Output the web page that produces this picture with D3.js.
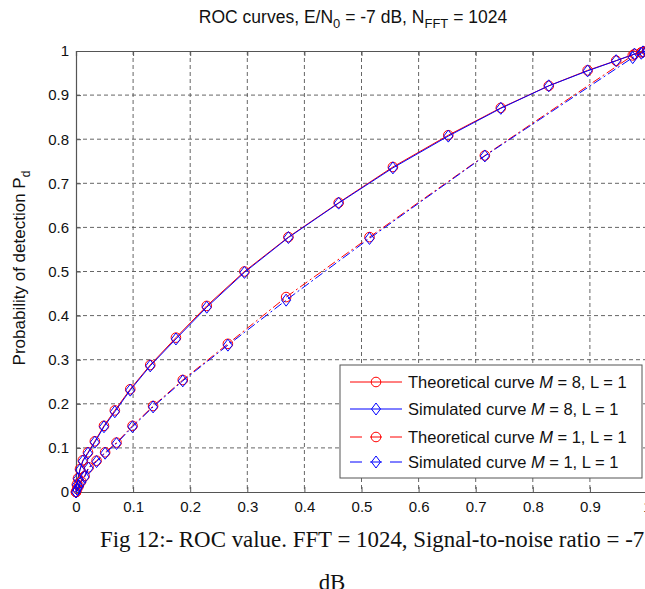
<!DOCTYPE html>
<html>
<head>
<meta charset="utf-8">
<script src="https://cdn.jsdelivr.net/npm/d3@7/dist/d3.min.js"></script>
<style>
  body { margin: 0; background: #fff; }
  svg { display: block; }
</style>
</head>
<body>
<div id="chart"></div>
<script>
var xTicks = [0, 0.1, 0.2, 0.3, 0.4, 0.5, 0.6, 0.7, 0.8, 0.9, 1];
var yTicks = [0, 0.1, 0.2, 0.3, 0.4, 0.5, 0.6, 0.7, 0.8, 0.9, 1];

var pfaM8 = [0, 0.0015, 0.0035, 0.007, 0.012, 0.021, 0.033, 0.049, 0.068, 0.095, 0.13, 0.175, 0.229, 0.295, 0.372, 0.46, 0.555, 0.652, 0.744, 0.828, 0.896, 0.946, 0.978, 0.993, 1];
var pdM8Theo = [0, 0.017, 0.031, 0.052, 0.072, 0.09, 0.115, 0.15, 0.185, 0.233, 0.288, 0.35, 0.422, 0.5, 0.578, 0.656, 0.737, 0.809, 0.871, 0.921, 0.956, 0.978, 0.993, 0.998, 1];
var pdM8Sim = [0, 0.016, 0.03, 0.05, 0.07, 0.088, 0.113, 0.148, 0.182, 0.231, 0.286, 0.347, 0.419, 0.498, 0.577, 0.655, 0.735, 0.807, 0.87, 0.921, 0.955, 0.978, 0.993, 0.998, 1];

var pfaM1 = [0, 0.002, 0.005, 0.009, 0.015, 0.022, 0.036, 0.051, 0.071, 0.099, 0.135, 0.187, 0.266, 0.368, 0.514, 0.716, 0.975, 0.99, 1];
var pdM1Theo = [0, 0.007, 0.014, 0.024, 0.036, 0.056, 0.071, 0.09, 0.112, 0.15, 0.195, 0.254, 0.336, 0.442, 0.578, 0.763, 0.99, 0.997, 1];
var pdM1Sim = [0, 0.006, 0.013, 0.022, 0.034, 0.054, 0.069, 0.088, 0.11, 0.148, 0.193, 0.252, 0.333, 0.435, 0.575, 0.762, 0.985, 0.995, 1];

var legendLabels = [
  ["Theoretical curve ", "M", " = 8, L = 1"],
  ["Simulated curve ", "M", " = 8, L = 1"],
  ["Theoretical curve ", "M", " = 1, L = 1"],
  ["Simulated curve ", "M", " = 1, L = 1"]
];

var W = 645, H = 589;
var mLeft = 76, mRight = 647, mTop = 51, mBottom = 492;
var dashDot = "9,3,2,3";

var svg = d3.select("#chart").append("svg")
  .attr("width", W)
  .attr("height", H)
  .style("font-family", "Arial, 'Liberation Sans', sans-serif");

var x = d3.scaleLinear().domain([0, 1]).range([mLeft, mRight]);
var y = d3.scaleLinear().domain([0, 1]).range([mBottom, mTop]);

// grid
svg.append("g").selectAll("line")
  .data(xTicks.slice(1, -1))
  .enter().append("line")
  .attr("x1", function (d) { return x(d); })
  .attr("x2", function (d) { return x(d); })
  .attr("y1", mTop).attr("y2", mBottom)
  .attr("stroke", "#555").attr("stroke-width", 0.9)
  .attr("stroke-dasharray", "4,3");
svg.append("g").selectAll("line")
  .data(yTicks.slice(1, -1))
  .enter().append("line")
  .attr("y1", function (d) { return y(d); })
  .attr("y2", function (d) { return y(d); })
  .attr("x1", mLeft).attr("x2", mRight)
  .attr("stroke", "#555").attr("stroke-width", 0.9)
  .attr("stroke-dasharray", "4,3");

// axes (ticks inward)
svg.append("g")
  .attr("transform", "translate(0," + mBottom + ")")
  .call(d3.axisBottom(x).tickValues(xTicks).tickSize(-5).tickPadding(9)
    .tickFormat(function (d) { return d; }))
  .call(function (g) {
    g.select(".domain").attr("stroke", "#555").attr("stroke-width", 1.2);
    g.selectAll(".tick line").attr("stroke", "#555");
    g.selectAll("text").attr("font-size", 15).attr("fill", "#111").attr("font-family", null);
  });
svg.append("g")
  .attr("transform", "translate(0," + mTop + ")")
  .call(d3.axisTop(x).tickValues(xTicks).tickSize(-5).tickFormat(""))
  .call(function (g) {
    g.select(".domain").attr("stroke", "#555").attr("stroke-width", 1.2);
    g.selectAll(".tick line").attr("stroke", "#555");
  });
svg.append("g")
  .attr("transform", "translate(" + mLeft + ",0)")
  .call(d3.axisLeft(y).tickValues(yTicks).tickSize(-5).tickPadding(7)
    .tickFormat(function (d) { return d; }))
  .call(function (g) {
    g.select(".domain").attr("stroke", "#555").attr("stroke-width", 1.2);
    g.selectAll(".tick line").attr("stroke", "#555");
    g.selectAll("text").attr("font-size", 15).attr("fill", "#111").attr("font-family", null);
  });

// curves
var series = [
  { xs: pfaM8, ys: pdM8Theo, color: "#f00", dash: null, marker: "circle" },
  { xs: pfaM8, ys: pdM8Sim, color: "#00f", dash: null, marker: "diamond" },
  { xs: pfaM1, ys: pdM1Theo, color: "#f00", dash: dashDot, marker: "circle" },
  { xs: pfaM1, ys: pdM1Sim, color: "#00f", dash: dashDot, marker: "diamond" }
];

var line = d3.line()
  .x(function (d) { return x(d[0]); })
  .y(function (d) { return y(d[1]); });

var diamondPath = "M0,-6L4.5,0L0,6L-4.5,0Z";

function drawMarker(sel, s) {
  if (s.marker === "circle") {
    sel.append("circle").attr("r", 4.8)
      .attr("fill", "none").attr("stroke", s.color).attr("stroke-width", 1);
  } else {
    sel.append("path").attr("d", diamondPath)
      .attr("fill", "none").attr("stroke", s.color).attr("stroke-width", 1);
  }
}

var plot = svg.append("g");
series.forEach(function (s) {
  var pts = s.xs.map(function (v, i) { return [v, s.ys[i]]; });
  plot.append("path")
    .datum(pts)
    .attr("d", line)
    .attr("fill", "none")
    .attr("stroke", s.color)
    .attr("stroke-width", 1)
    .attr("stroke-dasharray", s.dash);
  plot.selectAll(null)
    .data(pts)
    .enter().append("g")
    .attr("transform", function (d) { return "translate(" + x(d[0]) + "," + y(d[1]) + ")"; })
    .each(function () { drawMarker(d3.select(this), s); });
});

// legend
var lg = svg.append("g").attr("transform", "translate(340,365)");
lg.append("rect")
  .attr("width", 302).attr("height", 113)
  .attr("fill", "#fff").attr("stroke", "#555").attr("stroke-width", 1);
var rowY = [17, 44, 72, 97];
series.forEach(function (s, i) {
  var row = lg.append("g").attr("transform", "translate(0," + rowY[i] + ")");
  row.append("line")
    .attr("x1", 10).attr("x2", 62)
    .attr("stroke", s.color).attr("stroke-width", 1)
    .attr("stroke-dasharray", s.dash ? "12,8,0,0" : null);
  var m = row.append("g").attr("transform", "translate(36,0)");
  drawMarker(m, s);
  var t = row.append("text")
    .attr("x", 68).attr("y", 6)
    .attr("font-size", 16.5).attr("fill", "#111");
  t.append("tspan").text(legendLabels[i][0]);
  t.append("tspan").attr("font-style", "italic").text(legendLabels[i][1]);
  t.append("tspan").text(legendLabels[i][2]);
});

// title
var title = svg.append("text")
  .attr("x", 353).attr("y", 23)
  .attr("text-anchor", "middle")
  .attr("font-size", 17.5).attr("fill", "#111");
title.append("tspan").text("ROC curves, E/N");
title.append("tspan").attr("font-size", 13).attr("dy", 5).text("0");
title.append("tspan").attr("dy", -5).text(" = -7 dB, N");
title.append("tspan").attr("font-size", 13).attr("dy", 5).text("FFT");
title.append("tspan").attr("dy", -5).text(" = 1024");

// y label
var yl = svg.append("text")
  .attr("transform", "translate(25,268) rotate(-90)")
  .attr("text-anchor", "middle")
  .attr("font-size", 17).attr("fill", "#111");
yl.append("tspan").text("Probability of detection P");
yl.append("tspan").attr("font-size", 12).attr("dy", 5).text("d");

// caption
svg.append("text")
  .attr("x", 100).attr("y", 547)
  .attr("font-family", "'Liberation Serif', 'Times New Roman', serif")
  .attr("font-size", 22.9).attr("fill", "#111")
  .text("Fig 12:- ROC value. FFT = 1024, Signal-to-noise ratio = -7");
svg.append("text")
  .attr("x", 332).attr("y", 590)
  .attr("text-anchor", "middle")
  .attr("font-family", "'Liberation Serif', 'Times New Roman', serif")
  .attr("font-size", 22.9).attr("fill", "#111")
  .text("dB");
</script>
</body>
</html>
